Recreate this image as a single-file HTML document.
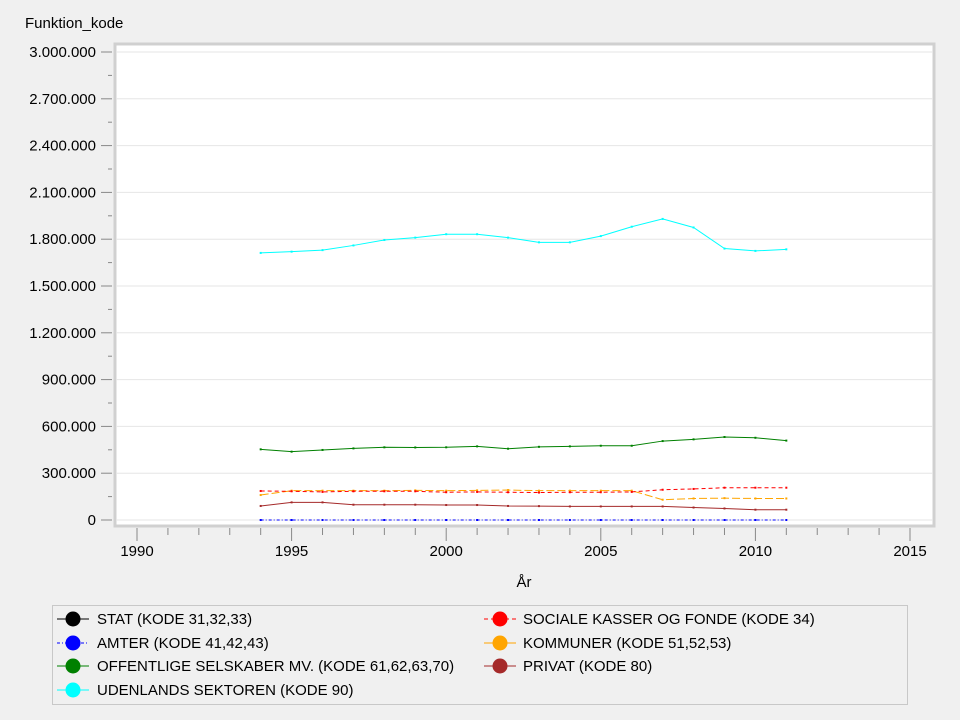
<!DOCTYPE html>
<html><head><meta charset="utf-8"><style>
html,body{margin:0;padding:0;background:#f0f0f0;}
svg{display:block;font-family:"Liberation Sans",sans-serif;}
</style></head><body>
<svg id="s" width="960" height="720" xmlns="http://www.w3.org/2000/svg">
<rect width="960" height="720" fill="#f0f0f0"/>
<text x="25" y="28" font-size="15" fill="#000">Funktion_kode</text>
<rect x="115" y="44" width="819" height="482" fill="#fff" stroke="#d0d0d0" stroke-width="3"/>
<g id="grid"></g>
<g id="ser"></g>
<text x="524" y="587" font-size="15" text-anchor="middle">År</text>
<rect x="52.5" y="605.5" width="855" height="99" fill="none" stroke="#c8c8c8"/>
<g font-size="15" fill="#000">
<line x1="57" y1="619" x2="89" y2="619" stroke="#000"/><circle cx="73" cy="619" r="7.5" fill="#000"/><text x="97" y="624">STAT (KODE 31,32,33)</text>
<line x1="57" y1="643" x2="89" y2="643" stroke="#00f" stroke-dasharray="3,2,1,2"/><circle cx="73" cy="643" r="7.5" fill="#00f"/><text x="97" y="648">AMTER (KODE 41,42,43)</text>
<line x1="57" y1="666" x2="89" y2="666" stroke="#008000"/><circle cx="73" cy="666" r="7.5" fill="#008000"/><text x="97" y="671">OFFENTLIGE SELSKABER MV. (KODE 61,62,63,70)</text>
<line x1="57" y1="690" x2="89" y2="690" stroke="#0ff"/><circle cx="73" cy="690" r="7.5" fill="#0ff"/><text x="97" y="695">UDENLANDS SEKTOREN (KODE 90)</text>
<line x1="484" y1="619" x2="516" y2="619" stroke="#f00" stroke-dasharray="4,3"/><circle cx="500" cy="619" r="7.5" fill="#f00"/><text x="523" y="624">SOCIALE KASSER OG FONDE (KODE 34)</text>
<line x1="484" y1="643" x2="516" y2="643" stroke="#ffa500"/><circle cx="500" cy="643" r="7.5" fill="#ffa500"/><text x="523" y="648">KOMMUNER (KODE 51,52,53)</text>
<line x1="484" y1="666" x2="516" y2="666" stroke="#a52a2a"/><circle cx="500" cy="666" r="7.5" fill="#a52a2a"/><text x="523" y="671">PRIVAT (KODE 80)</text>
</g>
</svg>
<script>
var NS="http://www.w3.org/2000/svg",g=document.getElementById("grid"),s=document.getElementById("ser");
function el(p,t,a,txt){var e=document.createElementNS(NS,t);for(var k in a)e.setAttribute(k,a[k]);if(txt)e.textContent=txt;p.appendChild(e);return e;}
function Y(v){return 520-v*0.156;}
function X(y){return 137+(y-1990)*30.92;}
for(var i=0;i<=10;i++){var v=i*300,y=Y(v);
 el(g,"line",{x1:116,x2:933,y1:y,y2:y,stroke:"#e6e6e6"});
 el(g,"line",{x1:101,x2:112,y1:y,y2:y,stroke:"#888"});
 var lab=i==0?"0":(v>=1000?Math.floor(v/1000)+"."+String(v%1000).padStart(3,"0")+".000":v+".000");
 el(g,"text",{x:96,y:y+5,"font-size":15,"text-anchor":"end"},lab);
 if(i<10){var ym=Y(v+150);el(g,"line",{x1:108,x2:112,y1:ym,y2:ym,stroke:"#888"});}
}
for(var yr=1990;yr<=2015;yr++){var x=X(yr),maj=yr%5==0;
 el(g,"line",{x1:x,x2:x,y1:528,y2:maj?541:535,stroke:"#888"});
 if(maj)el(g,"text",{x:x,y:556,"font-size":15,"text-anchor":"middle"},""+yr);}
var D=[
["#0000ff","3,2,1,2",[0,0,0,0,0,0,0,0,0,0,0,0,0,0,0,0,0,0]],
["#a52a2a","",[90,113,113,98,98,98,96,96,90,89,87,87,87,87,80,74,66,66]],
["#ffa500","8,3",[160,188,188,188,188,190,188,190,192,188,188,188,188,130,138,140,138,138]],
["#ff0000","4,3",[186,184,180,184,184,184,178,180,178,176,178,178,180,194,199,207,207,207]],
["#008000","",[453,438,449,459,466,465,466,472,457,469,472,476,476,506,517,532,527,509]],
["#00ffff","",[1712,1720,1730,1760,1795,1810,1832,1832,1810,1780,1780,1820,1880,1930,1875,1740,1725,1735]]];
D.forEach(function(d){var pts=d[2].map(function(v,i){return X(1994+i)+","+Y(v);}).join(" ");
 var a={points:pts,fill:"none",stroke:d[0],"stroke-width":1};if(d[1])a["stroke-dasharray"]=d[1];el(s,"polyline",a);
 d[2].forEach(function(v,i){el(s,"rect",{x:X(1994+i)-1,y:Y(v)-1,width:2,height:2,fill:d[0]});});});
</script>
</body></html>
